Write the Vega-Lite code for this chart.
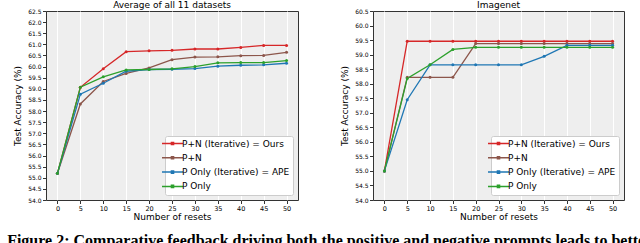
{
  "$schema": "https://vega.github.io/schema/vega-lite/v6.json",
  "background": "white",
  "padding": {"left": 7, "top": 0, "right": 0, "bottom": 0},
  "spacing": 41,
  "datasets": {
    "avg": [
      {"x": 0, "s": "P+N (Iterative) = Ours", "y": 55.2},
      {"x": 5, "s": "P+N (Iterative) = Ours", "y": 59.07},
      {"x": 10, "s": "P+N (Iterative) = Ours", "y": 59.9},
      {"x": 15, "s": "P+N (Iterative) = Ours", "y": 60.67},
      {"x": 20, "s": "P+N (Iterative) = Ours", "y": 60.71},
      {"x": 25, "s": "P+N (Iterative) = Ours", "y": 60.73},
      {"x": 30, "s": "P+N (Iterative) = Ours", "y": 60.79},
      {"x": 35, "s": "P+N (Iterative) = Ours", "y": 60.79},
      {"x": 40, "s": "P+N (Iterative) = Ours", "y": 60.86},
      {"x": 45, "s": "P+N (Iterative) = Ours", "y": 60.95},
      {"x": 50, "s": "P+N (Iterative) = Ours", "y": 60.95},
      {"x": 0, "s": "P+N", "y": 55.2},
      {"x": 5, "s": "P+N", "y": 58.32},
      {"x": 10, "s": "P+N", "y": 59.33},
      {"x": 15, "s": "P+N", "y": 59.69},
      {"x": 20, "s": "P+N", "y": 59.94},
      {"x": 25, "s": "P+N", "y": 60.31},
      {"x": 30, "s": "P+N", "y": 60.43},
      {"x": 35, "s": "P+N", "y": 60.44},
      {"x": 40, "s": "P+N", "y": 60.49},
      {"x": 45, "s": "P+N", "y": 60.5},
      {"x": 50, "s": "P+N", "y": 60.64},
      {"x": 0, "s": "P Only (Iterative) = APE", "y": 55.2},
      {"x": 5, "s": "P Only (Iterative) = APE", "y": 58.76},
      {"x": 10, "s": "P Only (Iterative) = APE", "y": 59.25},
      {"x": 15, "s": "P Only (Iterative) = APE", "y": 59.79},
      {"x": 20, "s": "P Only (Iterative) = APE", "y": 59.87},
      {"x": 25, "s": "P Only (Iterative) = APE", "y": 59.88},
      {"x": 30, "s": "P Only (Iterative) = APE", "y": 59.91},
      {"x": 35, "s": "P Only (Iterative) = APE", "y": 60.02},
      {"x": 40, "s": "P Only (Iterative) = APE", "y": 60.06},
      {"x": 45, "s": "P Only (Iterative) = APE", "y": 60.08},
      {"x": 50, "s": "P Only (Iterative) = APE", "y": 60.15},
      {"x": 0, "s": "P Only", "y": 55.2},
      {"x": 5, "s": "P Only", "y": 59.07},
      {"x": 10, "s": "P Only", "y": 59.54},
      {"x": 15, "s": "P Only", "y": 59.85},
      {"x": 20, "s": "P Only", "y": 59.87},
      {"x": 25, "s": "P Only", "y": 59.9},
      {"x": 30, "s": "P Only", "y": 60.0},
      {"x": 35, "s": "P Only", "y": 60.17},
      {"x": 40, "s": "P Only", "y": 60.18},
      {"x": 45, "s": "P Only", "y": 60.18},
      {"x": 50, "s": "P Only", "y": 60.27}
    ],
    "imagenet": [
      {"x": 0, "s": "P+N (Iterative) = Ours", "y": 55.0},
      {"x": 5, "s": "P+N (Iterative) = Ours", "y": 59.46},
      {"x": 10, "s": "P+N (Iterative) = Ours", "y": 59.46},
      {"x": 15, "s": "P+N (Iterative) = Ours", "y": 59.46},
      {"x": 20, "s": "P+N (Iterative) = Ours", "y": 59.46},
      {"x": 25, "s": "P+N (Iterative) = Ours", "y": 59.46},
      {"x": 30, "s": "P+N (Iterative) = Ours", "y": 59.46},
      {"x": 35, "s": "P+N (Iterative) = Ours", "y": 59.46},
      {"x": 40, "s": "P+N (Iterative) = Ours", "y": 59.46},
      {"x": 45, "s": "P+N (Iterative) = Ours", "y": 59.46},
      {"x": 50, "s": "P+N (Iterative) = Ours", "y": 59.46},
      {"x": 0, "s": "P+N", "y": 55.0},
      {"x": 5, "s": "P+N", "y": 58.22},
      {"x": 10, "s": "P+N", "y": 58.22},
      {"x": 15, "s": "P+N", "y": 58.22},
      {"x": 20, "s": "P+N", "y": 59.38},
      {"x": 25, "s": "P+N", "y": 59.38},
      {"x": 30, "s": "P+N", "y": 59.38},
      {"x": 35, "s": "P+N", "y": 59.38},
      {"x": 40, "s": "P+N", "y": 59.38},
      {"x": 45, "s": "P+N", "y": 59.38},
      {"x": 50, "s": "P+N", "y": 59.38},
      {"x": 0, "s": "P Only (Iterative) = APE", "y": 55.0},
      {"x": 5, "s": "P Only (Iterative) = APE", "y": 57.45},
      {"x": 10, "s": "P Only (Iterative) = APE", "y": 58.65},
      {"x": 15, "s": "P Only (Iterative) = APE", "y": 58.65},
      {"x": 20, "s": "P Only (Iterative) = APE", "y": 58.65},
      {"x": 25, "s": "P Only (Iterative) = APE", "y": 58.65},
      {"x": 30, "s": "P Only (Iterative) = APE", "y": 58.65},
      {"x": 35, "s": "P Only (Iterative) = APE", "y": 58.94},
      {"x": 40, "s": "P Only (Iterative) = APE", "y": 59.32},
      {"x": 45, "s": "P Only (Iterative) = APE", "y": 59.32},
      {"x": 50, "s": "P Only (Iterative) = APE", "y": 59.32},
      {"x": 0, "s": "P Only", "y": 55.0},
      {"x": 5, "s": "P Only", "y": 58.18},
      {"x": 10, "s": "P Only", "y": 58.65},
      {"x": 15, "s": "P Only", "y": 59.18},
      {"x": 20, "s": "P Only", "y": 59.25},
      {"x": 25, "s": "P Only", "y": 59.25},
      {"x": 30, "s": "P Only", "y": 59.25},
      {"x": 35, "s": "P Only", "y": 59.25},
      {"x": 40, "s": "P Only", "y": 59.25},
      {"x": 45, "s": "P Only", "y": 59.25},
      {"x": 50, "s": "P Only", "y": 59.25}
    ]
  },
  "config": {
    "font": "DejaVu Sans",
    "view": {"fill": "#eeeeee", "stroke": "#333333", "strokeWidth": 1},
    "title": {"fontSize": 9, "fontWeight": "normal", "color": "black", "offset": -2, "font": "DejaVu Sans"},
    "axis": {
      "domain": false,
      "tickColor": "#333333",
      "tickSize": 3.5,
      "labelColor": "black",
      "labelFont": "DejaVu Sans",
      "titleFont": "DejaVu Sans",
      "titleFontSize": 9,
      "titleFontWeight": "normal",
      "titleColor": "black",
      "labelPadding": 1.5
    },
    "axisX": {"grid": true, "gridColor": "white", "gridWidth": 1, "labelFontSize": 6.5, "titlePadding": 1},
    "axisY": {"grid": false, "labelFontSize": 6, "titlePadding": 5},
    "legend": {
      "orient": "bottom-right",
      "offset": 5,
      "fillColor": "white",
      "strokeColor": "#cccccc",
      "cornerRadius": 2,
      "padding": 3,
      "labelFont": "DejaVu Sans",
      "labelFontSize": 9,
      "labelColor": "black",
      "labelOffset": 5,
      "rowPadding": 4.3,
      "symbolType": "M-3,0H3M-0.3,-0.3H0.3V0.3H-0.3Z",
      "symbolSize": 49,
      "symbolStrokeWidth": 1.5
    }
  },
  "title": {
    "text": "Figure 2: Comparative feedback driving both the positive and negative prompts leads to better",
    "orient": "bottom",
    "anchor": "start",
    "frame": "bounds",
    "font": "Liberation Serif",
    "fontSize": 16,
    "fontWeight": "bold",
    "color": "black",
    "offset": 11,
    "dx": -6
  },
  "resolve": {"scale": {"color": "independent"}, "legend": {"color": "independent"}},
  "hconcat": [
    {
      "title": "Average of all 11 datasets",
      "width": 252,
      "height": 189,
      "data": {"name": "avg"},
      "mark": {"type": "line", "strokeWidth": 1.3, "point": {"filled": true, "size": 9}},
      "encoding": {
        "x": {"field": "x", "type": "quantitative", "scale": {"domain": [-2.5, 52.5], "nice": false, "zero": false}, "axis": {"values": [0, 5, 10, 15, 20, 25, 30, 35, 40, 45, 50], "title": "Number of resets"}},
        "y": {"field": "y", "type": "quantitative", "scale": {"domain": [54, 62.5], "nice": false, "zero": false}, "axis": {"values": [54, 54.5, 55, 55.5, 56, 56.5, 57, 57.5, 58, 58.5, 59, 59.5, 60, 60.5, 61, 61.5, 62, 62.5], "format": ".1f", "title": "Test Accuracy (%)"}},
        "color": {"field": "s", "type": "nominal", "sort": null, "scale": {"domain": ["P+N (Iterative) = Ours", "P+N", "P Only (Iterative) = APE", "P Only"], "range": ["#d62728", "#8c564b", "#1f77b4", "#2ca02c"]}, "legend": {"title": null}}
      }
    },
    {
      "title": "Imagenet",
      "width": 251,
      "height": 189,
      "data": {"name": "imagenet"},
      "mark": {"type": "line", "strokeWidth": 1.3, "point": {"filled": true, "size": 9}},
      "encoding": {
        "x": {"field": "x", "type": "quantitative", "scale": {"domain": [-2.5, 52.5], "nice": false, "zero": false}, "axis": {"values": [0, 5, 10, 15, 20, 25, 30, 35, 40, 45, 50], "title": "Number of resets"}},
        "y": {"field": "y", "type": "quantitative", "scale": {"domain": [54, 60.5], "nice": false, "zero": false}, "axis": {"values": [54, 54.5, 55, 55.5, 56, 56.5, 57, 57.5, 58, 58.5, 59, 59.5, 60, 60.5], "format": ".1f", "title": "Test Accuracy (%)"}},
        "color": {"field": "s", "type": "nominal", "sort": null, "scale": {"domain": ["P+N (Iterative) = Ours", "P+N", "P Only (Iterative) = APE", "P Only"], "range": ["#d62728", "#8c564b", "#1f77b4", "#2ca02c"]}, "legend": {"title": null}}
      }
    }
  ]
}
